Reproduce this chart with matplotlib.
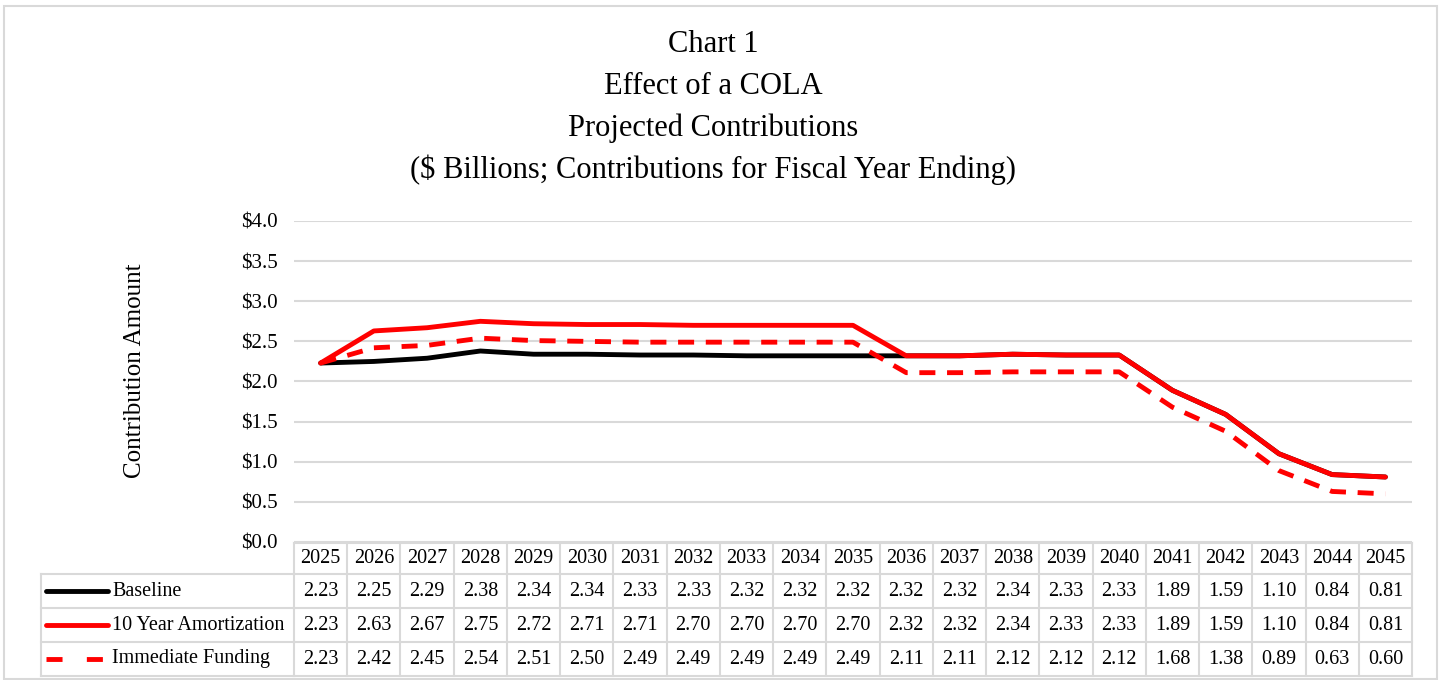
"""
Chart 1 - Effect of a COLA, projected contributions with data table below.
"""

import numpy as np
import matplotlib.pyplot as plt
import matplotlib.transforms as mtransforms
from matplotlib.lines import Line2D
from matplotlib.patches import Rectangle

plt.rcParams['font.family'] = ['Liberation Serif', 'DejaVu Serif']

# Data
years = list(range(2025, 2046))
baseline = [2.23, 2.25, 2.29, 2.38, 2.34, 2.34, 2.33, 2.33, 2.32, 2.32, 2.32,
            2.32, 2.32, 2.34, 2.33, 2.33, 1.89, 1.59, 1.10, 0.84, 0.81]
amort10 = [2.23, 2.63, 2.67, 2.75, 2.72, 2.71, 2.71, 2.70, 2.70, 2.70, 2.70,
           2.32, 2.32, 2.34, 2.33, 2.33, 1.89, 1.59, 1.10, 0.84, 0.81]
immediate = [2.23, 2.42, 2.45, 2.54, 2.51, 2.50, 2.49, 2.49, 2.49, 2.49, 2.49,
             2.11, 2.11, 2.12, 2.12, 2.12, 1.68, 1.38, 0.89, 0.63, 0.60]
series_names = ['Baseline', '10 Year Amortization', 'Immediate Funding']
y_ticks = np.arange(0, 4.01, 0.5)
title_lines = ['Chart 1', 'Effect of a COLA', 'Projected Contributions',
               '($ Billions; Contributions for Fiscal Year Ending)']

W, H = 1440, 680
GRID = '#D9D9D9'
DASH = (0, (3.3, 2.4))
LW = 3.5
FS = 14.5


def fx(px):
    return px / W


def fy(py):
    return 1 - py / H


fig = plt.figure(figsize=(W / 100, H / 100), dpi=100)

# outer chart border
fig.add_artist(Rectangle((fx(4), fy(679)), fx(1437) - fx(4), fy(6) - fy(679),
                         transform=fig.transFigure, fill=False, ec=GRID, lw=1.5))

ax = fig.add_axes([fx(294), fy(542), fx(1412) - fx(294), fy(221) - fy(542)])

x = np.arange(len(years))
styles = [dict(color='black', ls='-'),
          dict(color='red', ls='-'),
          dict(color='red', ls=DASH)]
all_series = [baseline, amort10, immediate]
for vals, st in zip(all_series, styles):
    ax.plot(x, vals, lw=LW, solid_capstyle='round', dash_capstyle='butt',
            solid_joinstyle='round', **st)

ax.set_xlim(-0.5, len(years) - 0.5)
ax.set_ylim(0, 4)
ax.set_yticks(y_ticks)
ax.set_yticklabels([f'${v:.1f}' for v in y_ticks], fontsize=15)
ax.tick_params(axis='y', length=0, pad=12)
ax.set_xticks([])
ax.grid(axis='y', color=GRID, lw=1.5)
ax.set_axisbelow(True)
for s in ax.spines.values():
    s.set_visible(False)

# y label and title
fig.text(fx(135), fy(371), 'Contribution Amount', rotation=90,
         ha='center', va='center', fontsize=18)
for k, line in enumerate(title_lines):
    fig.text(fx(713), fy(45 + 41.7 * k), line, ha='center', va='center',
             fontsize=22)

# Data table
trans = mtransforms.blended_transform_factory(ax.transData, fig.transFigure)
row_edges = [543, 574, 608, 642, 676]
x0, x1 = -0.5, len(years) - 0.5

for yy in row_edges:
    fig.add_artist(Line2D([x0, x1], [fy(yy)] * 2, transform=trans,
                          color=GRID, lw=1.5))
for xx in np.arange(x0, x1 + 0.01, 1.0):
    fig.add_artist(Line2D([xx, xx], [fy(row_edges[0]), fy(row_edges[-1])],
                          transform=trans, color=GRID, lw=1.5))
for yy in row_edges[1:]:
    fig.add_artist(Line2D([fx(41), fx(294)], [fy(yy)] * 2,
                          transform=fig.transFigure, color=GRID, lw=1.5))
fig.add_artist(Line2D([fx(41), fx(41)], [fy(row_edges[1]), fy(row_edges[-1])],
                      transform=fig.transFigure, color=GRID, lw=1.5))

yc = (row_edges[0] + row_edges[1]) / 2
for i, yr in enumerate(years):
    fig.text(i, fy(yc), str(yr), transform=trans, ha='center', va='center',
             fontsize=FS)

for r, (name, vals, st) in enumerate(zip(series_names, all_series, styles)):
    yc = (row_edges[r + 1] + row_edges[r + 2]) / 2
    ls = st['ls'] if st['ls'] == '-' else (0, (3.3, 5.0))
    fig.add_artist(Line2D([fx(46), fx(108)], [fy(yc)] * 2,
                          transform=fig.transFigure, color=st['color'],
                          ls=ls, lw=LW, solid_capstyle='round',
                          dash_capstyle='butt'))
    fig.text(fx(112), fy(yc), name, ha='left', va='center', fontsize=FS)
    for i, v in enumerate(vals):
        fig.text(i, fy(yc), f'{v:.2f}', transform=trans, ha='center',
                 va='center', fontsize=FS)

fig.savefig('out.png', dpi=100)
